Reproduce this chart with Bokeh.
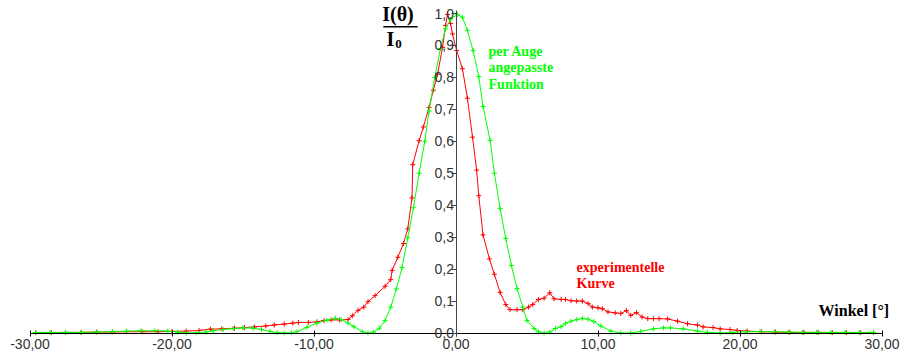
from bokeh.plotting import figure
from bokeh.models import Range1d, FixedTicker, Label, BoxAnnotation
from bokeh.embed import file_html
from bokeh.resources import INLINE

# ---- data ----
red_x = [-29.6, -28.5, -27.5, -26.4, -25.3, -24.2, -23.2, -22.1, -21.0, -20.0,
         -19.0, -18.1, -17.3, -16.5, -15.6, -14.9, -14.2, -13.4, -12.8, -12.1,
         -11.5, -11.1, -10.4, -9.8, -9.3, -8.8, -8.2, -7.6, -7.3, -6.9,
         -6.5, -6.2, -5.7, -5.0, -4.6, -4.5, -4.1, -3.7, -3.4, -3.1,
         -3.05, -2.6, -2.3, -1.9, -1.6, -1.3, -0.95, -0.74, -0.6, -0.39,
         -0.25, 0.04, 0.45, 0.8, 1.16, 1.45, 1.6, 1.9, 2.35, 2.7,
         3.1, 3.5, 3.8, 4.3, 4.7, 5.1, 5.4, 5.8, 6.2, 6.6,
         6.9, 7.4, 7.7, 8.1, 8.5, 8.9, 9.3, 9.6, 10.0, 10.3,
         10.7, 11.2, 11.6, 12.0, 12.3, 12.7, 13.1, 13.5, 13.9, 14.3,
         14.9, 15.6, 16.3, 17.0, 17.4, 18.1, 18.6, 19.3, 19.8, 20.5,
         21.5, 22.5, 23.5, 24.5, 25.5, 26.5, 27.5, 28.5, 29.4]
red_y = [0.001, 0.001, 0.002, 0.002, 0.003, 0.003, 0.004, 0.004, 0.004, 0.005,
         0.006, 0.008, 0.012, 0.013, 0.015, 0.017, 0.019, 0.022, 0.025, 0.028,
         0.031, 0.033, 0.033, 0.035, 0.039, 0.041, 0.041, 0.042, 0.054, 0.071,
         0.081, 0.098, 0.117, 0.146, 0.167, 0.196, 0.237, 0.280, 0.326, 0.423,
         0.527, 0.602, 0.645, 0.706, 0.760, 0.810, 0.894, 0.962, 0.997, 0.969,
         0.936, 0.884, 0.827, 0.735, 0.613, 0.510, 0.430, 0.307, 0.232, 0.184,
         0.127, 0.089, 0.073, 0.073, 0.073, 0.081, 0.089, 0.105, 0.109, 0.126,
         0.107, 0.105, 0.105, 0.101, 0.100, 0.100, 0.092, 0.081, 0.079, 0.076,
         0.066, 0.063, 0.061, 0.070, 0.055, 0.064, 0.050, 0.045, 0.045, 0.045,
         0.044, 0.037, 0.029, 0.025, 0.019, 0.017, 0.013, 0.011, 0.008, 0.006,
         0.004, 0.003, 0.002, 0.002, 0.002, 0.001, 0.001, 0.001, 0.001]

green_x = [-29.6, -28.6, -27.5, -26.4, -25.3, -24.2, -23.2, -22.2, -21.2, -20.3,
           -19.6, -19.0, -18.3, -17.6, -17.1, -16.4, -15.7, -15.0, -14.3, -13.7,
           -13.1, -12.6, -12.1, -11.6, -11.2, -10.5, -9.8, -9.1, -8.5, -8.1,
           -7.6, -7.2, -6.6, -6.2, -5.8, -5.4, -5.0, -4.6, -4.2, -3.8,
           -3.4, -3.0, -2.6, -2.2, -1.9, -1.5, -1.1, -0.74, -0.39, 0.1,
           0.45, 0.8, 1.2, 1.6, 1.9, 2.4, 2.7, 3.1, 3.5, 3.9,
           4.3, 4.7, 5.0, 5.5, 5.8, 6.2, 6.6, 7.0, 7.4, 7.7,
           8.1, 8.5, 8.9, 9.3, 9.7, 10.2, 10.9, 11.6, 12.3, 13.0,
           13.9, 14.6, 15.1, 16.0, 17.0, 17.7, 18.6, 19.5, 20.4, 21.4,
           22.4, 23.4, 24.4, 25.4, 26.4, 27.4, 28.4, 29.4]
green_y = [0.002, 0.002, 0.002, 0.002, 0.003, 0.004, 0.006, 0.007, 0.007, 0.006,
           0.003, 0.000, 0.001, 0.003, 0.007, 0.011, 0.014, 0.016, 0.015, 0.011,
           0.005, 0.001, 0.000, 0.001, 0.004, 0.018, 0.031, 0.040, 0.046, 0.042,
           0.031, 0.020, 0.004, 0.000, 0.003, 0.015, 0.039, 0.081, 0.138, 0.205,
           0.298, 0.392, 0.500, 0.600, 0.695, 0.800, 0.890, 0.952, 0.982, 0.997,
           0.988, 0.947, 0.884, 0.803, 0.709, 0.603, 0.500, 0.390, 0.296, 0.211,
           0.139, 0.081, 0.039, 0.014, 0.004, 0.000, 0.003, 0.014, 0.020, 0.030,
           0.037, 0.042, 0.046, 0.043, 0.036, 0.022, 0.006, 0.000, 0.000, 0.005,
           0.013, 0.016, 0.016, 0.013, 0.006, 0.002, 0.000, 0.002, 0.004, 0.004,
           0.004, 0.003, 0.002, 0.002, 0.002, 0.002, 0.002, 0.002]

x_ticks = [-30, -20, -10, 0, 10, 20, 30]
x_tick_labels = ["-30,00", "-20,00", "-10,00", "0,00", "10,00", "20,00", "30,00"]
y_ticks = [0.0, 0.1, 0.2, 0.3, 0.4, 0.5, 0.6, 0.7, 0.8, 0.9, 1.0]
y_tick_labels = ["0,0", "0,1", "0,2", "0,3", "0,4", "0,5", "0,6", "0,7", "0,8", "0,9", "1,0"]

RED = "#ff0000"
GREEN = "#00ff00"
SERIF = "Liberation Serif"
SANS = "Liberation Sans"

p = figure(width=902, height=358, output_backend="svg", toolbar_location=None,
           x_range=Range1d(-32.08, 31.44), y_range=Range1d(-0.0798, 1.0407),
           min_border=0, outline_line_color=None, background_fill_color="white",
           border_fill_color="white")
p.grid.visible = False

# axes crossing at the origin
p.xaxis.fixed_location = 0
p.yaxis.fixed_location = 0
p.xaxis.bounds = (-30, 30)
p.yaxis.bounds = (-0.012, 1.01)
p.xaxis.ticker = FixedTicker(ticks=x_ticks)
p.yaxis.ticker = FixedTicker(ticks=y_ticks)
p.xaxis.major_label_overrides = {float(t): l for t, l in zip(x_ticks, x_tick_labels)}
p.yaxis.major_label_overrides = {t: l for t, l in zip(y_ticks, y_tick_labels)}
for ax in (p.xaxis, p.yaxis):
    ax.minor_tick_line_color = None
    ax.major_label_text_font = SANS
    ax.major_label_text_font_size = "14px"
    ax.major_label_text_color = "#333333"
p.xaxis.axis_line_color = "black"
p.xaxis.major_tick_line_color = "black"
p.xaxis.major_tick_in = 3
p.xaxis.major_tick_out = 3
p.xaxis.major_label_standoff = 3
p.yaxis.axis_line_color = "#444444"
p.yaxis.major_tick_line_color = "#444444"
p.yaxis.major_tick_in = 0
p.yaxis.major_tick_out = 5
p.yaxis.major_label_standoff = -3

# curves
p.line(red_x, red_y, line_color=RED, line_width=1)
p.scatter(red_x, red_y, marker="cross", size=5, line_color=RED, line_width=1)
p.line(green_x, green_y, line_color=GREEN, line_width=1)
p.scatter(green_x, green_y, marker="cross", size=5, line_color=GREEN, line_width=1)

# annotations
p.add_layout(Label(x=2.29, y=0.906, text="per Auge\nangepasste\nFunktion",
                   text_font=SERIF, text_font_style="bold", text_font_size="14px",
                   text_color=GREEN, text_baseline="top", text_line_height=1.1))
p.add_layout(Label(x=8.49, y=0.23, text="experimentelle\nKurve",
                   text_font=SERIF, text_font_style="bold", text_font_size="14px",
                   text_color=RED, text_baseline="top", text_line_height=1.1))
p.add_layout(Label(x=25.53, y=0.0955, text="Winkel [°]",
                   text_font=SERIF, text_font_style="bold", text_font_size="16px",
                   text_color="black", text_baseline="top"))
p.add_layout(Label(x=-5.2, y=1.032, text="I(θ)",
                   text_font=SERIF, text_font_style="bold", text_font_size="20px",
                   text_color="black", text_baseline="top"))
p.add_layout(BoxAnnotation(left=-5.12, right=-2.71, bottom=0.9562, top=0.9609,
                           fill_color="black", fill_alpha=1, line_color=None))
p.add_layout(Label(x=-4.89, y=0.955, text="I",
                   text_font=SERIF, text_font_style="bold", text_font_size="20px",
                   text_color="black", text_baseline="top"))
p.add_layout(Label(x=-4.28, y=0.918, text="0",
                   text_font=SERIF, text_font_style="bold", text_font_size="13px",
                   text_color="black", text_baseline="top"))

open("out.html", "w").write(file_html(p, INLINE))
